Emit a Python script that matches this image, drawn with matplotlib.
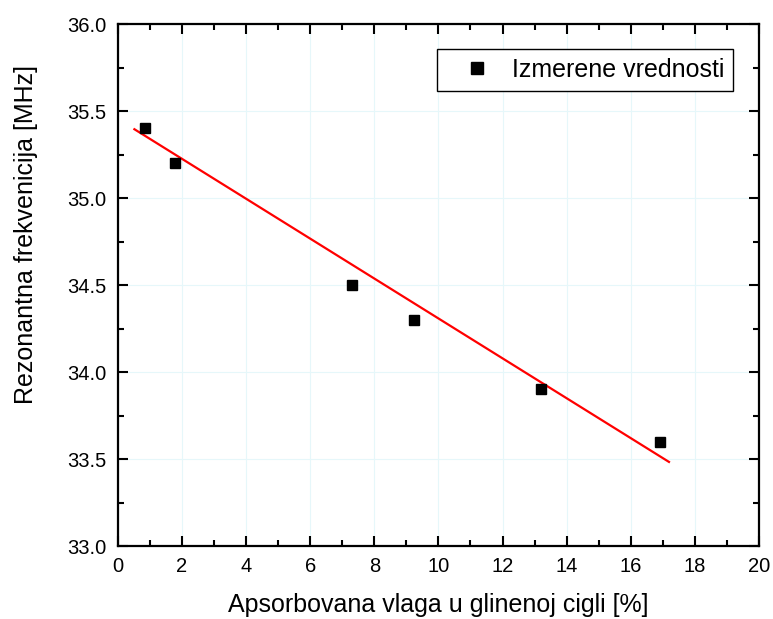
import matplotlib
matplotlib.use('Agg')
import matplotlib.pyplot as plt
import numpy as np
from matplotlib.ticker import MultipleLocator, FormatStrFormatter

plt.rcParams['font.family'] = ['Liberation Sans', 'DejaVu Sans']

# measured points
vlaga = [0.85, 1.8, 7.3, 9.25, 13.2, 16.9]
frekvencija = [35.4, 35.2, 34.5, 34.3, 33.9, 33.6]

# linear fit
fit_x = [0.52, 17.19]
fit_k = -0.1147
fit_n = 35.455

fig = plt.figure(figsize=(7.73, 6.19), dpi=100)
ax = fig.add_axes([0.1523, 0.1179, 0.8297, 0.8433])

fx = np.array(fit_x)
ax.plot(fx, fit_n + fit_k * fx, color='red', lw=1.6, zorder=2)
ax.plot(vlaga, frekvencija, 's', color='black', ms=7, ls='none',
        label='Izmerene vrednosti', zorder=3)

ax.set_xlim(0, 20)
ax.set_ylim(33.0, 36.0)
ax.xaxis.set_major_locator(MultipleLocator(2))
ax.xaxis.set_minor_locator(MultipleLocator(1))
ax.yaxis.set_major_locator(MultipleLocator(0.5))
ax.yaxis.set_minor_locator(MultipleLocator(0.25))
ax.yaxis.set_major_formatter(FormatStrFormatter('%.1f'))

ax.grid(True, which='major', color='#e6f7fa', lw=0.8, zorder=0)
ax.tick_params(which='both', direction='in', top=True, right=True,
               labelsize=14.5, width=1.5, pad=8)
ax.tick_params(which='major', length=7)
ax.tick_params(which='minor', length=4)
for s in ax.spines.values():
    s.set_linewidth(1.6)

ax.set_xlabel('Apsorbovana vlaga u glinenoj cigli [%]', fontsize=18, labelpad=12)
ax.set_ylabel('Rezonantna frekvenicija [MHz]', fontsize=18)
ax.yaxis.set_label_coords(-0.124, 0.597)

leg = ax.legend(loc='upper right', fontsize=18, fancybox=False, edgecolor='black',
                framealpha=1, bbox_to_anchor=(0.9594, 0.952), borderaxespad=0,
                handlelength=2.5, handletextpad=0.15, borderpad=0.35,
                markerscale=1.25)
leg.get_frame().set_linewidth(1.0)

fig.savefig('out.png', dpi=100)
